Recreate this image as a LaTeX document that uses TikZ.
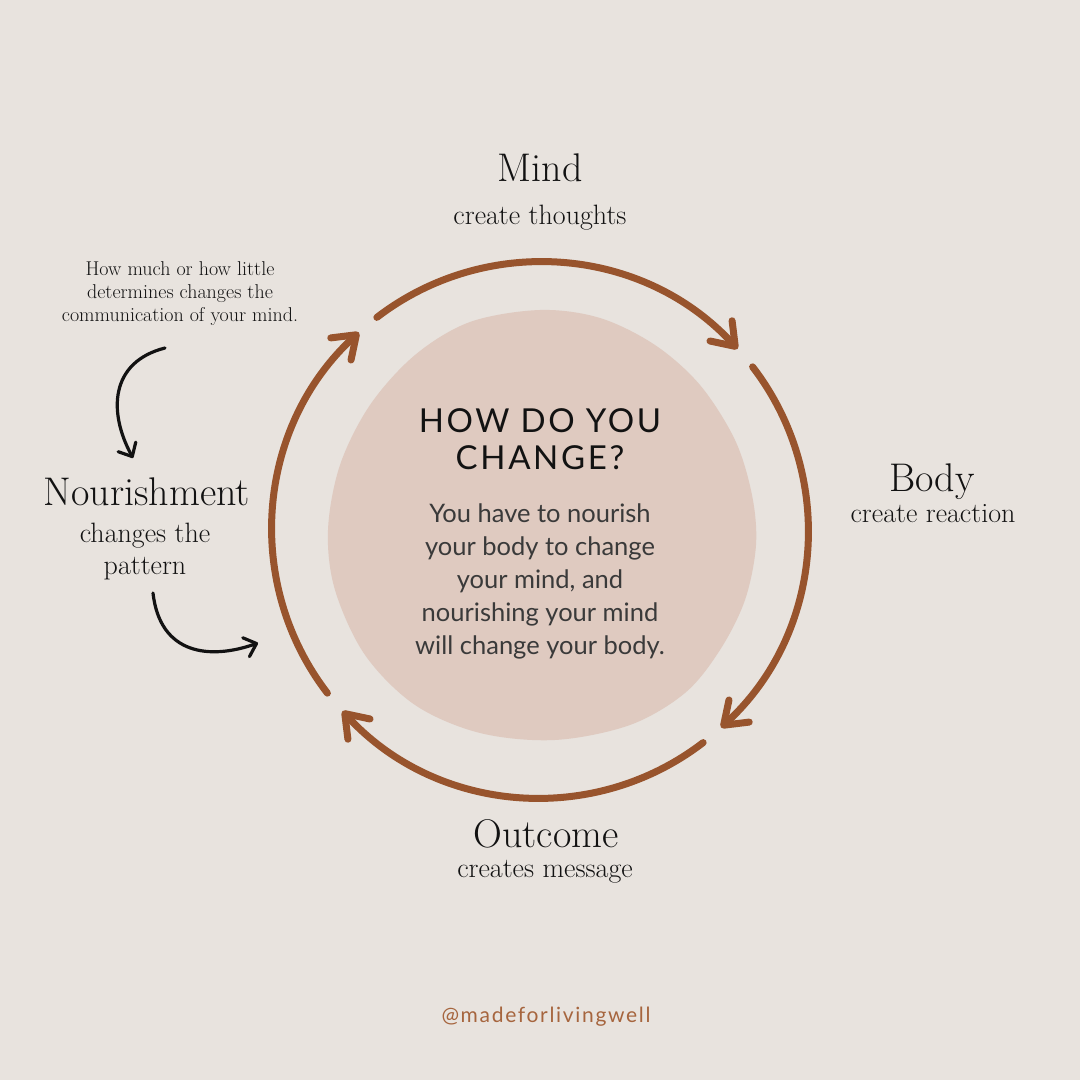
\documentclass[tikz,border=0pt]{standalone}
\usepackage{fontspec}
\usepackage{tikz}
\usetikzlibrary{arrows.meta,positioning}
\newfontfamily\lato{Lato}
\definecolor{paper}{HTML}{E8E3DE}
\definecolor{blob}{HTML}{DFCAC0}
\definecolor{rust}{HTML}{98542D}
\definecolor{handle}{HTML}{A6653E}
\definecolor{ink}{HTML}{121212}
\definecolor{softink}{HTML}{3A3A3A}
\tikzset{
  ringarc/.style={
    rust,
    line width=7pt,
    line cap=round,
    -{Straight Barb[length=21pt,width=30pt,round]}
  },
  handarrow/.style={
    ink,
    line width=3.2pt,
    line cap=round,
    -{Straight Barb[length=11pt,width=20pt,round]}
  },
  stage/.style={
    anchor=base,
    inner sep=0pt,
    text=ink,
    font=\fontsize{40}{44}\selectfont
  },
  verb/.style={
    anchor=base,
    inner sep=0pt,
    text=ink,
    font=\fontsize{28}{32}\selectfont\addfontfeatures{LetterSpace=6}
  },
  note/.style={
    anchor=base,
    inner sep=0pt,
    text=ink,
    align=center,
    font=\fontsize{20}{23}\selectfont\addfontfeatures{LetterSpace=5}
  },
  question/.style={
    anchor=base,
    inner sep=0pt,
    text=ink,
    align=center,
    font=\lato\fontsize{33}{37}\selectfont\addfontfeatures{LetterSpace=8}
  },
  answer/.style={
    anchor=base,
    inner sep=0pt,
    text=softink,
    align=center,
    font=\lato\fontsize{25.5}{33}\selectfont
  }
}
\begin{document}
\begin{tikzpicture}[x=1pt,y=1pt]
    \fill[paper] (0,0) rectangle (1080,1080);
    \useasboundingbox (0,0) rectangle (1080,1080);
    % centre blob
    \fill[blob] plot[smooth cycle, tension=0.55] coordinates {
        (540,770) (600,762) (655,735) (700,695) (735,640) (752,585)
        (756,535) (745,480) (720,430) (685,387) (630,355) (555,340)
        (480,347) (415,375) (365,425) (335,490) (328,550) (340,615)
        (370,675) (415,725) (470,758)};
    % the ring of four arrows
    \coordinate (hub) at (540,550);
    \foreach \a in {127.5,37.5,-52.5,-142.5}
        \draw[ringarc] (hub) ++(\a:268) arc[start angle=\a, delta angle=-85, radius=268];
    % labels round the ring
    \node[stage] (mind) at (540,898) {Mind};
    \node[verb] (mindverb) at (540,855) {create thoughts};
    \node[stage] (body) at (932,588) {Body};
    \node[verb] (bodyverb) at (933,557) {create reaction};
    \node[stage] (outcome) at (546,232) {Outcome};
    \node[verb] (outcomeverb) at (545,202) {creates message};
    \node[stage] (nourish) at (147,574) {Nourishment};
    \node[verb, align=center] (nourishverb) at (145,505) {changes the\\pattern};
    \node[note] (howmuch) at (180,758) {How much or how little\\determines changes the\\communication of your mind.};
    % centre text
    \node[question] (howq) at (540,610) {HOW DO YOU\\CHANGE?};
    \node[answer] (howa) at (540,425) {You have to nourish\\your body to change\\your mind, and\\nourishing your mind\\will change your body.};
    % hand drawn arrows
    \coordinate (n1) at (165,732);
    \coordinate (n2) at (133,622);
    \coordinate (p1) at (153,487);
    \coordinate (p2) at (258,437);
    \draw[handarrow] (n1) .. controls (110,718) and (108,668) .. (n2);
    \draw[handarrow] (p1) .. controls (160,425) and (210,420) .. (p2);
    % signature
    \node[anchor=base, inner sep=0pt, text=handle, font=\lato\fontsize{21}{24}\selectfont\addfontfeatures{LetterSpace=8}] (handle) at (546,57) {@madeforlivingwell};
\end{tikzpicture}
\end{document}
